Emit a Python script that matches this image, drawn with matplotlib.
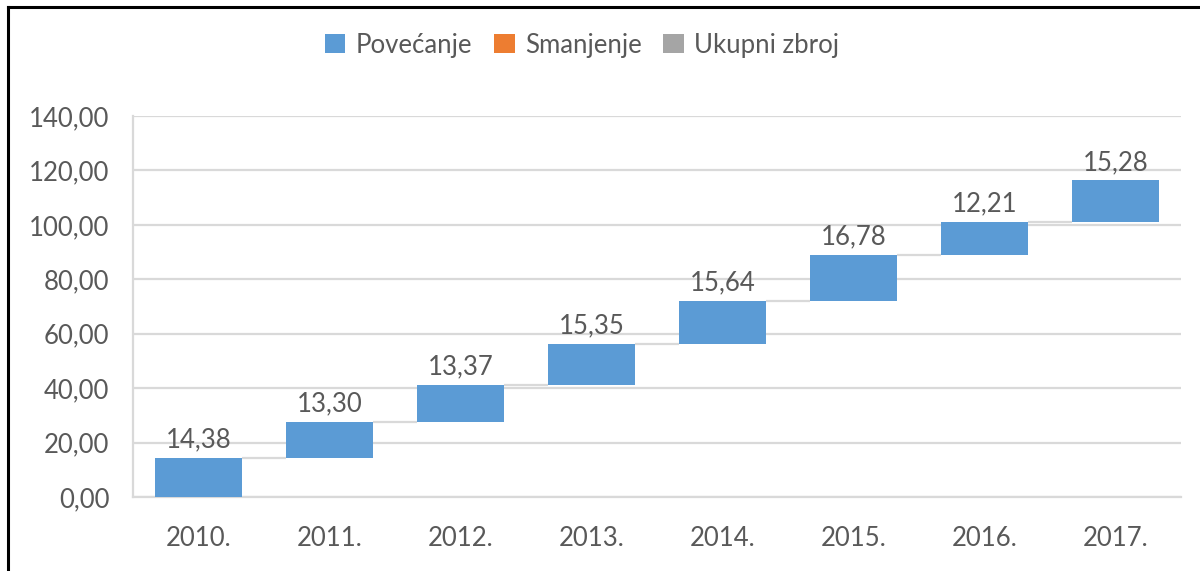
import matplotlib
matplotlib.use("Agg")
import matplotlib.pyplot as plt
from matplotlib.patches import Patch
from matplotlib.lines import Line2D
from matplotlib.ticker import FuncFormatter, MultipleLocator
import numpy as np

plt.rcParams['font.family'] = ['Lato', 'DejaVu Sans']

years = ["2010.", "2011.", "2012.", "2013.", "2014.", "2015.", "2016.", "2017."]
increases = [14.38, 13.30, 13.37, 15.35, 15.64, 16.78, 12.21, 15.28]
legend_labels = ["Povećanje", "Smanjenje", "Ukupni zbroj"]

c_up = "#5B9BD5"
c_down = "#ED7D31"
c_total = "#A5A5A5"
c_text = "#595959"
c_grid = "#D9D9D9"
fs = 18.5

vals = np.array(increases)
tops = np.cumsum(vals)
bottoms = tops - vals
x = np.arange(len(years))
width = 0.66

fig = plt.figure(figsize=(12, 5.71), dpi=100)
ax = fig.add_axes([133 / 1200, 1 - 497 / 571, (1181 - 133) / 1200, (497 - 116) / 571])

ax.bar(x, vals, bottom=bottoms, width=width, color=c_up, zorder=3)

# connector lines between consecutive bars
for i in range(len(x) - 1):
    ax.plot([x[i] + width / 2, x[i + 1] - width / 2], [tops[i], tops[i]],
            color=c_grid, lw=1.6, zorder=2, solid_capstyle='butt')

for xi, t, v in zip(x, tops, vals):
    ax.annotate(f"{v:.2f}".replace(".", ","), (xi, t), xytext=(0, 4),
                textcoords="offset points", ha="center", va="bottom",
                fontsize=fs, color=c_text)

ax.set_xlim(-0.5, len(x) - 0.5)
ax.set_ylim(0, 140)
ax.yaxis.set_major_locator(MultipleLocator(20))
ax.yaxis.set_major_formatter(FuncFormatter(lambda v, p: f"{v:.2f}".replace(".", ",")))
ax.set_xticks(x)
ax.set_xticklabels(years)
ax.tick_params(axis="both", length=0, labelsize=fs, labelcolor=c_text)
ax.tick_params(axis="x", pad=21)
ax.tick_params(axis="y", pad=17)
ax.grid(axis="y", color=c_grid, lw=1.6, zorder=0)
ax.set_axisbelow(True)
for s in ["top", "right"]:
    ax.spines[s].set_visible(False)
for s in ["left", "bottom"]:
    ax.spines[s].set_color(c_grid)
    ax.spines[s].set_linewidth(1.6)

handles = [Patch(facecolor=c_up), Patch(facecolor=c_down), Patch(facecolor=c_total)]
fig.legend(handles, legend_labels, loc="center", bbox_to_anchor=(582 / 1200, 1 - 45 / 571),
           ncol=3, frameon=False, fontsize=fs, labelcolor=c_text,
           handlelength=0.8, handleheight=0.8, handletextpad=0.4, columnspacing=0.85)

# frame lines at left and top
fig.add_artist(Line2D([8 / 1200, 8 / 1200], [0, 1 - 7 / 571], transform=fig.transFigure,
                      color="black", lw=2.2))
fig.add_artist(Line2D([8 / 1200, 1], [1 - 7 / 571, 1 - 7 / 571], transform=fig.transFigure,
                      color="black", lw=2.2))

fig.savefig("out.png", dpi=100, facecolor="white")
